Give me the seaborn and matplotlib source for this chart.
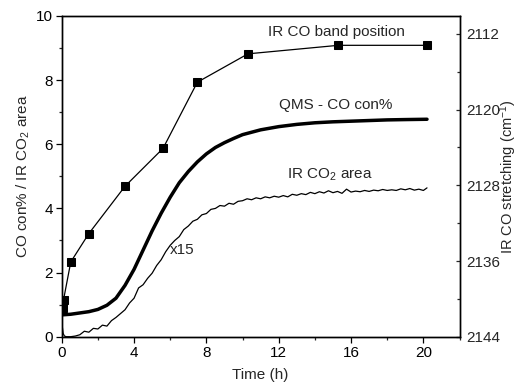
import numpy as np
import pandas as pd
import matplotlib
matplotlib.use("Agg")
import matplotlib.pyplot as plt
from matplotlib.ticker import MultipleLocator
import seaborn as sns

# ---------------- data ----------------
band_t = [0.05, 0.1, 0.5, 1.5, 3.5, 5.6, 7.5, 10.3, 15.3, 20.2]
band_wn = [2141.0, 2140.1, 2136.1, 2133.1, 2128.1, 2124.1, 2117.1, 2114.1, 2113.2, 2113.2]

qms_t = [0, 0.5, 1, 1.5, 2, 2.5, 3, 3.5, 4, 4.5, 5, 5.5, 6, 6.5, 7, 7.5, 8, 8.5,
         9, 9.5, 10, 11, 12, 13, 14, 15, 16, 17, 18, 19, 20.2]
qms_v = [0.68, 0.70, 0.74, 0.78, 0.85, 0.98, 1.20, 1.60, 2.10, 2.70, 3.30, 3.85,
         4.35, 4.80, 5.15, 5.45, 5.70, 5.90, 6.05, 6.18, 6.30, 6.45, 6.55, 6.62,
         6.67, 6.70, 6.72, 6.74, 6.76, 6.77, 6.78]

co2_t = [0.0, 0.03, 0.08, 0.15, 0.25, 0.5, 0.75,
         1.0, 1.25, 1.5, 1.75, 2.0, 2.25, 2.5, 2.75, 3.0, 3.25, 3.5, 3.75,
         4.0, 4.25, 4.5, 4.75, 5.0, 5.25, 5.5, 5.75, 6.0, 6.25, 6.5, 6.75,
         7.0, 7.25, 7.5, 7.75, 8.0, 8.25, 8.5, 8.75, 9.0, 9.25, 9.5, 9.75,
         10.0, 10.25, 10.5, 10.75, 11.0, 11.25, 11.5, 11.75, 12.0, 12.25,
         12.5, 12.75, 13.0, 13.25, 13.5, 13.75, 14.0, 14.25, 14.5, 14.75,
         15.0, 15.25, 15.5, 15.75, 16.0, 16.25, 16.5, 16.75, 17.0, 17.25,
         17.5, 17.75, 18.0, 18.25, 18.5, 18.75, 19.0, 19.25, 19.5, 19.75,
         20.0, 20.2]
co2_v = [0.05, 0.32, 0.10, 0.02, 0.0, 0.0, 0.02,
         0.06, 0.17, 0.14, 0.26, 0.24, 0.36, 0.33, 0.50, 0.60, 0.72, 0.84, 1.05,
         1.20, 1.52, 1.62, 1.82, 1.98, 2.22, 2.40, 2.65, 2.85, 3.00, 3.12, 3.34,
         3.45, 3.60, 3.66, 3.80, 3.84, 3.97, 4.00, 4.09, 4.07, 4.16, 4.13, 4.22,
         4.24, 4.30, 4.27, 4.33, 4.30, 4.36, 4.33, 4.38, 4.35, 4.40,
         4.36, 4.44, 4.41, 4.46, 4.43, 4.50, 4.46, 4.52, 4.48, 4.55,
         4.49, 4.53, 4.47, 4.60, 4.51, 4.54, 4.52, 4.56, 4.53, 4.57,
         4.55, 4.59, 4.56, 4.58, 4.56, 4.61, 4.58, 4.62, 4.57, 4.60,
         4.56, 4.64]

x_ticks = [0, 4, 8, 12, 16, 20]
y_ticks = [0, 2, 4, 6, 8, 10]
r_ticks = [2112, 2120, 2128, 2136, 2144]

# ---------------- style ----------------
sns.set_style("ticks")
plt.rcParams["font.family"] = ["Liberation Sans", "DejaVu Sans"]
plt.rcParams["font.size"] = 11
plt.rcParams["mathtext.fontset"] = "custom"
plt.rcParams["mathtext.rm"] = "Liberation Sans"
plt.rcParams["mathtext.it"] = "Liberation Sans:italic"

fig = plt.figure(figsize=(5.24, 3.90), dpi=100)
ax = fig.add_axes([0.1178, 0.1367, 0.7592, 0.8223])
ax2 = ax.twinx()

qms = pd.DataFrame({"t": qms_t, "v": qms_v})
co2 = pd.DataFrame({"t": co2_t, "v": co2_v})
band = pd.DataFrame({"t": band_t, "wn": band_wn})

sns.lineplot(data=qms, x="t", y="v", ax=ax, color="black", lw=2.5,
             estimator=None, sort=False)
sns.lineplot(data=co2, x="t", y="v", ax=ax, color="black", lw=0.9,
             estimator=None, sort=False)
sns.lineplot(data=band, x="t", y="wn", ax=ax2, color="black", lw=0.9,
             marker="s", markersize=5.5, markeredgecolor="black",
             markerfacecolor="black", estimator=None, sort=False)

ax.set_xlim(0, 22)
ax.set_ylim(0, 10)
ax2.set_ylim(2144, 2110.1)

ax.set_xticks(x_ticks)
ax.set_yticks(y_ticks)
ax2.set_yticks(r_ticks)
ax.xaxis.set_minor_locator(MultipleLocator(2))
ax.yaxis.set_minor_locator(MultipleLocator(1))
ax2.yaxis.set_minor_locator(MultipleLocator(4))

ax.tick_params(axis="both", which="major", direction="out", length=4.5,
               width=0.9, labelsize=11, colors="black", pad=2)
ax.tick_params(axis="both", which="minor", direction="out", length=2.5,
               width=0.9)
ax.tick_params(axis="x", top=False, which="both")
ax2.tick_params(axis="y", which="major", direction="in", length=3.2,
                width=0.9, labelsize=11, pad=5)
ax2.tick_params(axis="y", which="minor", direction="in", length=2.0,
                width=0.9)

for a in (ax, ax2):
    for s in a.spines.values():
        s.set_visible(True)
        s.set_linewidth(1.0)
        s.set_color("black")

ax.set_xlabel("Time (h)", fontsize=11, labelpad=6)
ax.set_ylabel("CO con% / IR CO$_2$ area", fontsize=11, labelpad=3)
ax2.set_ylabel("IR CO stretching (cm$^{-1}$)", fontsize=10.5)
ax2.yaxis.set_label_coords(1.095, 0.5)

ax.text(11.43, 9.51, "IR CO band position", fontsize=11, va="center", ha="left")
ax.text(12.04, 7.22, "QMS - CO con%", fontsize=11, va="center", ha="left")
ax.text(12.45, 5.04, "IR CO$_2$ area", fontsize=11, va="center", ha="left")
ax.text(6.0, 2.7, "x15", fontsize=11, va="center", ha="left")

fig.savefig("out.png", dpi=100)
